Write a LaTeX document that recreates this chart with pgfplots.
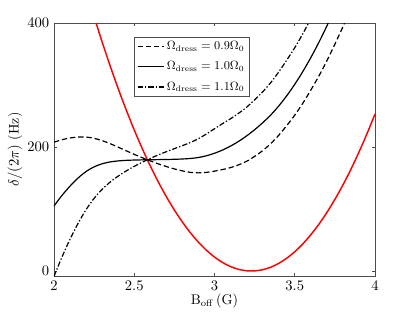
\documentclass[border=0pt]{standalone}
\usepackage{pgfplots}
\pgfplotsset{compat=1.18}
\begin{document}
\begin{tikzpicture}[x=1pt,y=1pt]
\path[use as bounding box] (-40.5pt,-27pt) rectangle (270.75pt,207pt);
\begin{axis}[
  at={(0pt,0pt)}, anchor=south west,
  scale only axis, width=240.75pt, height=189.75pt,
  xmin=2, xmax=4, ymin=-8, ymax=400,
  xtick={2,2.5,3,3.5,4}, ytick={0,200,400},
  tick align=inside, major tick length=2.5pt,
  axis line style={draw=black!70},
  every tick/.style={black!70},
  tick label style={font=\fontsize{10.5}{12}\selectfont},
  label style={font=\fontsize{10.5}{12}\selectfont},
  xlabel={B$_{\mathrm{off}}$\,(G)},
  ylabel={$\delta/(2\pi)$ (Hz)},
  xlabel style={yshift=4pt},
  ylabel style={yshift=-3pt},
  legend style={at={(0.249,0.944)}, anchor=north west, font=\small,
    draw=black!70, line width=0.5pt, inner xsep=2pt, inner ysep=1pt, row sep=3.5pt},
  legend cell align=left,
  legend image code/.code={\draw[#1] (0pt,0pt) -- (19.5pt,0pt);},
]
\addplot[red, line width=1.1pt, smooth, forget plot] coordinates {
(2.25,410.1)(2.30,369.3)(2.35,330.7)(2.40,294.2)(2.45,259.8)(2.50,227.5)
(2.55,197.4)(2.60,169.5)(2.65,143.6)(2.70,119.9)(2.75,98.4)(2.80,79.0)
(2.85,61.7)(2.90,46.5)(2.95,33.5)(3.00,22.6)(3.05,13.8)(3.10,7.2)
(3.15,2.7)(3.20,0.4)(3.25,0.2)(3.30,2.1)(3.35,6.1)(3.40,12.3)(3.45,20.7)
(3.50,31.1)(3.55,43.7)(3.60,58.5)(3.65,75.3)(3.70,94.3)(3.75,115.5)
(3.80,138.7)(3.85,164.1)(3.90,191.7)(3.95,221.4)(4.00,253.2)};
\addplot[black, line width=0.9pt, dash pattern=on 4pt off 2.2pt, smooth] coordinates {
(2.00,207.8)(2.05,211.8)(2.10,214.6)(2.15,216.1)(2.20,216.1)(2.25,214.0)
(2.30,210.3)(2.35,205.4)(2.40,199.8)(2.45,193.9)(2.50,188.2)(2.55,182.7)
(2.60,177.6)(2.65,172.8)(2.70,168.5)(2.75,164.7)(2.80,161.5)(2.85,159.1)
(2.90,158.3)(2.95,159.1)(3.00,161.1)(3.05,163.7)(3.10,166.8)(3.15,171.2)
(3.20,177.0)(3.25,184.9)(3.30,194.1)(3.35,205.4)(3.40,218.9)(3.45,234.5)
(3.50,251.4)(3.55,270.5)(3.60,291.8)(3.65,314.3)(3.70,338.9)(3.75,365.8)
(3.80,393.9)(3.85,424.1)};
\addlegendentry{$\Omega_{\mathrm{dress}} = 0.9\Omega_0$}
\addplot[black, line width=0.9pt, smooth] coordinates {
(2.00,105.0)(2.05,122.0)(2.10,137.0)(2.15,150.0)(2.20,160.5)(2.25,168.0)
(2.30,173.0)(2.35,176.0)(2.40,177.6)(2.45,178.5)(2.50,179.0)(2.55,179.3)
(2.60,179.5)(2.65,179.7)(2.70,179.9)(2.75,180.2)(2.80,180.7)(2.85,181.5)
(2.90,183.1)(2.95,185.9)(3.00,189.9)(3.05,195.1)(3.10,201.5)(3.15,209.1)
(3.20,217.9)(3.25,227.9)(3.30,239.1)(3.35,251.6)(3.40,266.1)(3.45,282.6)
(3.50,301.1)(3.55,321.6)(3.60,344.1)(3.65,368.6)(3.70,395.1)(3.75,423.6)};
\addlegendentry{$\Omega_{\mathrm{dress}} = 1.0\Omega_0$}
\addplot[black, line width=0.9pt, dash pattern=on 4pt off 1.5pt on 1pt off 1.5pt, smooth] coordinates {
(2.00,-8.6)(2.05,22.8)(2.10,51.3)(2.15,76.9)(2.20,99.1)(2.25,117.2)
(2.30,131.8)(2.35,143.5)(2.40,153.1)(2.45,161.4)(2.50,168.8)(2.55,175.5)
(2.60,181.6)(2.65,187.3)(2.70,192.5)(2.75,197.4)(2.80,202.2)(2.85,207.3)
(2.90,213.5)(2.95,221.1)(3.00,229.5)(3.05,237.7)(3.10,245.6)(3.15,254.4)
(3.20,264.2)(3.25,276.1)(3.30,288.9)(3.35,303.8)(3.40,320.9)(3.45,340.1)
(3.50,360.2)(3.55,382.5)(3.60,407.0)};
\addlegendentry{$\Omega_{\mathrm{dress}} = 1.1\Omega_0$}
\end{axis}
\end{tikzpicture}
\end{document}
